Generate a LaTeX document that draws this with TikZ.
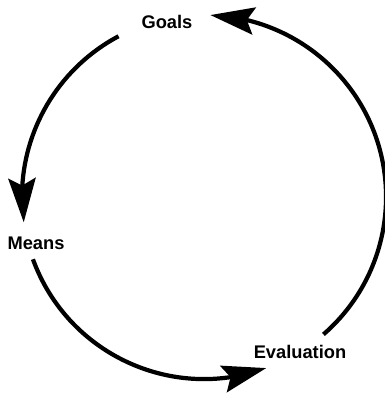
\documentclass[tikz,border=0pt]{standalone}
\usepackage{fontspec}
\setmainfont{Liberation Sans}
\usetikzlibrary{arrows.meta,bending,calc}

\tikzset{
	cyclearc/.style={black, line width=3pt, -{Stealth[length=1.1cm, width=0.68cm, inset=0.18cm]}},
	stage/.style={font=\bfseries\fontsize{13}{15}\selectfont, inner sep=1pt}
}

\begin{document}
\begin{tikzpicture}[x=0.025cm, y=0.025cm]
		\useasboundingbox (0,0) rectangle (384,393);

		\coordinate (centre) at (204,196);

		\node[stage] (goals) at (167,371) {Goals};
		\node[stage] (means) at (36,150) {Means};
		\node[stage] (evaluation) at (300,41) {Evaluation};

		\coordinate (goalsout) at ($(centre)+(118:4.55cm)$);
		\coordinate (meansout) at ($(centre)+(200:4.55cm)$);
		\coordinate (evalout) at ($(centre)+(-49:4.55cm)$);

		\draw[cyclearc] (goalsout) arc[start angle=118, end angle=188, radius=4.55cm];
		\draw[cyclearc] (meansout) arc[start angle=200, end angle=290, radius=4.55cm];
		\draw[cyclearc] (evalout) arc[start angle=-49, end angle=88, radius=4.55cm];
	\end{tikzpicture}
\end{document}
